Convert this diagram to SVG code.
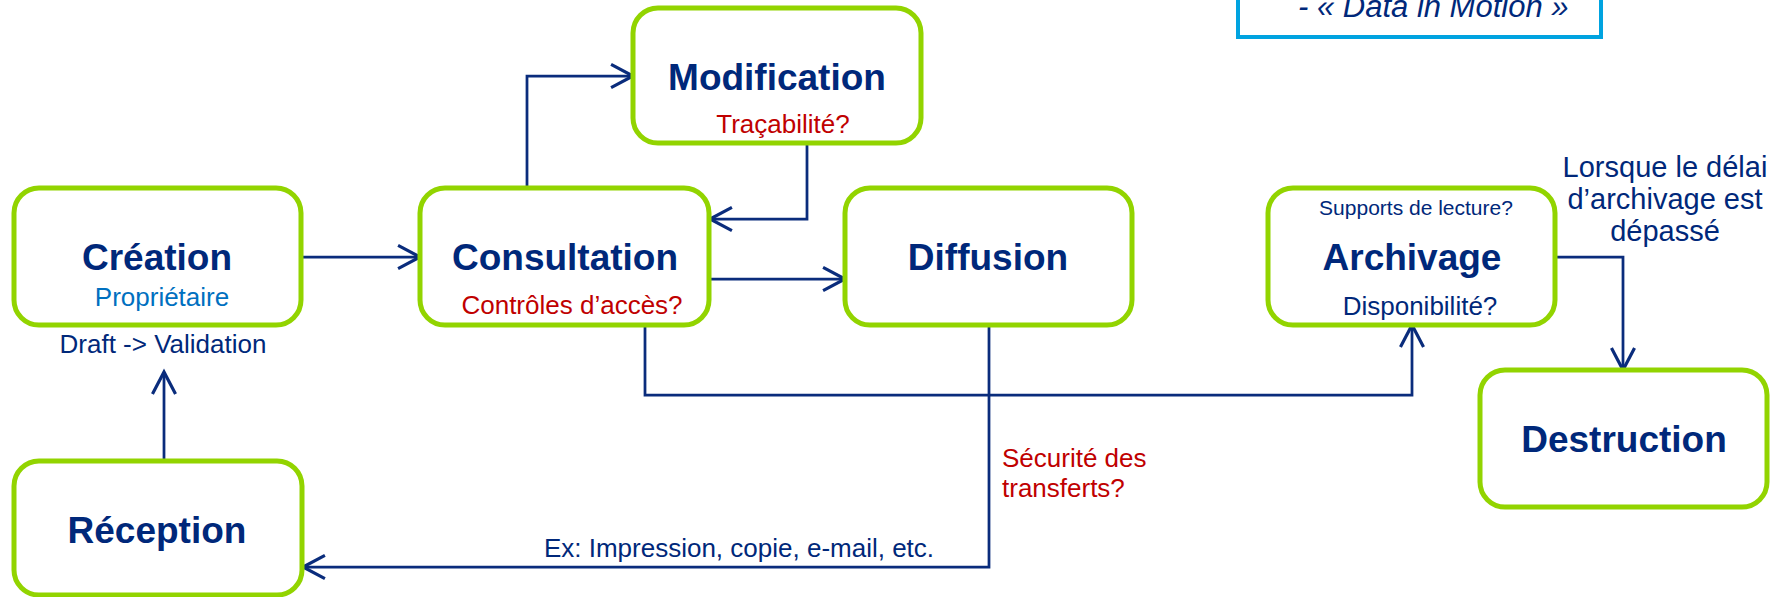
<svg xmlns="http://www.w3.org/2000/svg" width="1773" height="597" viewBox="0 0 1773 597">
<style>
text{font-family:"Liberation Sans",Arial,sans-serif;fill:#00287A;text-anchor:middle}
.box{fill:#fff;stroke:#92D400;stroke-width:5}
.t{font-weight:bold;font-size:37px}
.s{font-size:26px}
.red{fill:#C00000}
.c{fill:none;stroke:#0A2C7C;stroke-width:2.75;marker-end:url(#ah)}
</style>
<defs>
<marker id="ah" markerUnits="userSpaceOnUse" markerWidth="30" markerHeight="30" viewBox="-22 -13 26 26" refX="0" refY="0" orient="auto">
<path d="M-19,-10 L0,0 L-19,10" fill="none" stroke="#0A2C7C" stroke-width="2.75"/>
</marker>
</defs>
<rect x="0" y="0" width="1773" height="597" fill="#fff"/>
<g id="note">
<rect x="1238" y="-60" width="363" height="97" fill="#fff" stroke="#00A3E0" stroke-width="4"/>
<text x="1298" y="17" style="text-anchor:start;font-style:italic;font-size:31px">- « Data in Motion »</text>
</g>
<g id="connectors">
<path class="c" d="M301,257 H420"/>
<path class="c" d="M527,188 V76 H633"/>
<path class="c" d="M807,143 V219 H710"/>
<path class="c" d="M709,279 H845"/>
<path class="c" d="M645,325 V395 H1412 V325"/>
<path class="c" d="M989,325 V567 H303"/>
<path class="c" d="M164,491 V372"/>
<path class="c" d="M1555,257 H1623 V370"/>
<text class="s" x="163" y="353">Draft -&gt; Validation</text>
<text class="s" x="739" y="557">Ex: Impression, copie, e-mail, etc.</text>
<text class="s red" x="1002" y="467" style="text-anchor:start">Sécurité des</text>
<text class="s red" x="1002" y="497" style="text-anchor:start">transferts?</text>
<text x="1665" y="177" style="font-size:29px">Lorsque le délai</text>
<text x="1665" y="209" style="font-size:29px">d’archivage est</text>
<text x="1665" y="241" style="font-size:29px">dépassé</text>
</g>
<g id="creation">
<rect class="box" x="14" y="188" width="287" height="137" rx="25"/>
<text class="t" x="157" y="270">Création</text>
<text class="s" x="162" y="306" style="fill:#0070C0">Propriétaire</text>
</g>
<g id="consultation">
<rect class="box" x="420" y="188" width="289" height="137" rx="25"/>
<text class="t" x="565" y="270">Consultation</text>
<text class="s red" x="572" y="314">Contrôles d’accès?</text>
</g>
<g id="modification">
<rect class="box" x="633" y="8" width="288" height="135" rx="25"/>
<text class="t" x="777" y="90">Modification</text>
<text class="s red" x="783" y="133">Traçabilité?</text>
</g>
<g id="diffusion">
<rect class="box" x="845" y="188" width="287" height="137" rx="25"/>
<text class="t" x="988" y="270">Diffusion</text>
</g>
<g id="archivage">
<rect class="box" x="1268" y="188" width="287" height="137" rx="25"/>
<text x="1416" y="215" style="font-size:21px">Supports de lecture?</text>
<text class="t" x="1412" y="270">Archivage</text>
<text class="s" x="1420" y="315">Disponibilité?</text>
</g>
<g id="destruction">
<rect class="box" x="1480" y="370" width="287" height="137" rx="25"/>
<text class="t" x="1624" y="452">Destruction</text>
</g>
<g id="reception">
<rect class="box" x="14" y="461" width="288" height="134" rx="25"/>
<text class="t" x="157" y="543">Réception</text>
</g>
</svg>
